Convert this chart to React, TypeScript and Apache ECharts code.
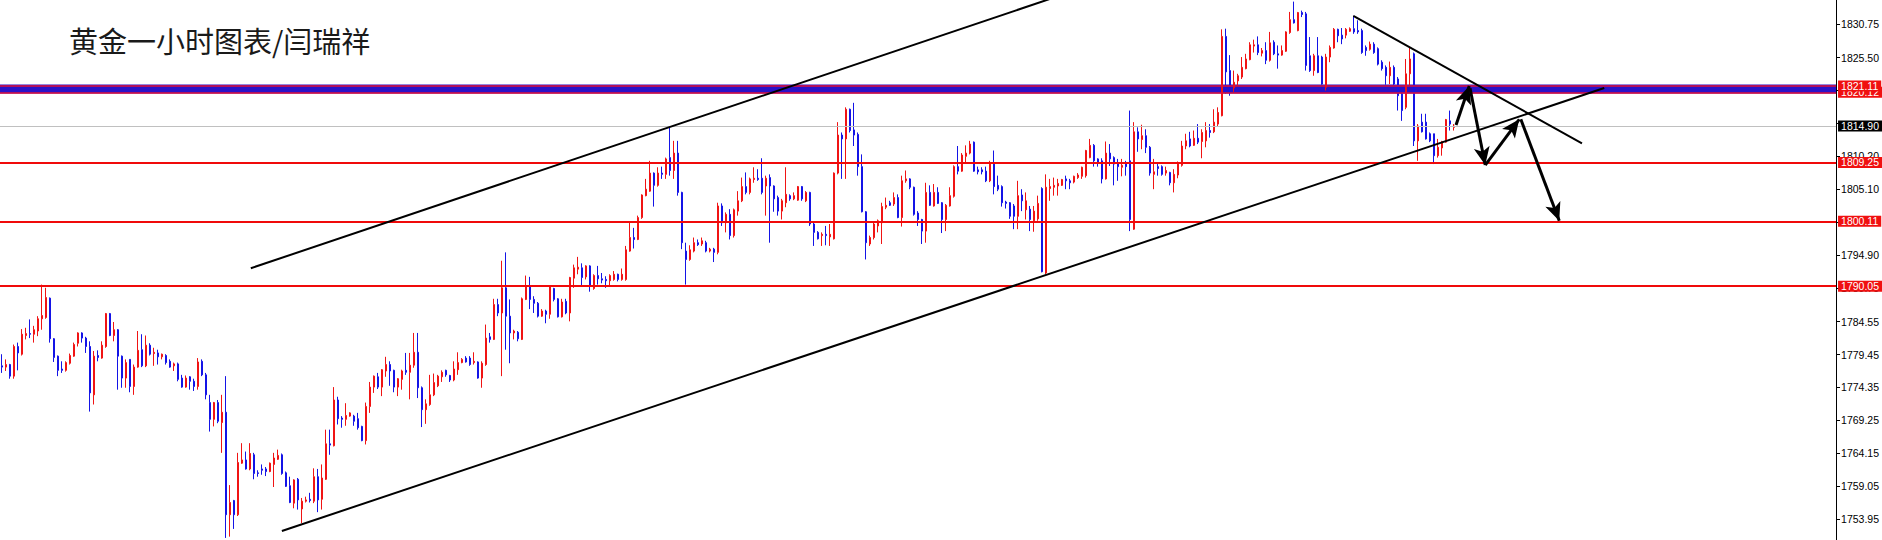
import React, { useEffect, useRef } from "react";
import * as echarts from "echarts";

// Each candle: [open, close, low, high]
const segA: number[][] = [
  [1777.7,1777.5,1776.6,1779.5],[1777.5,1777.9,1776.9,1778.7],[1777.9,1776.1,1775.7,1778.0],[1776.1,1780.7,1775.7,1781.0],
  [1780.7,1779.7,1777.0,1781.3],[1779.5,1782.6,1779.3,1783.4],[1782.4,1782.7,1781.8,1783.6],[1782.7,1782.6,1782.0,1784.9],
  [1782.6,1783.3,1781.3,1783.9],[1783.1,1785.0,1782.3,1785.4],[1785.0,1785.5,1783.3,1790.3],[1785.2,1788.3,1785.0,1789.8],
  [1788.2,1781.9,1781.3,1788.3],[1781.9,1779.0,1778.3,1782.0],[1779.2,1777.0,1776.1,1779.3],[1777.2,1777.0,1776.6,1778.4],
  [1777.0,1778.2,1776.8,1778.4],[1778.1,1779.3,1777.9,1779.6],[1779.2,1781.0,1779.1,1781.3],[1781.2,1782.8,1780.7,1782.9],
  [1782.8,1782.0,1781.3,1782.9],[1782.0,1780.7,1779.7,1782.2],[1780.7,1773.5,1770.6,1781.5],[1773.2,1779.2,1771.7,1780.0],
  [1779.3,1779.0,1778.4,1780.1],[1778.9,1780.9,1778.8,1781.5],[1780.7,1785.8,1780.5,1785.9],[1785.8,1782.4,1782.3,1785.9],
  [1782.4,1783.3,1781.5,1784.5],[1783.3,1779.2,1774.0,1783.4],[1779.2,1775.8,1774.3,1779.3],[1775.8,1778.2,1774.3,1778.7],
  [1778.7,1774.5,1773.6,1778.7],[1774.5,1777.5,1773.2,1777.9],[1777.5,1780.1,1777.4,1783.1],[1780.2,1777.7,1777.5,1782.6],
  [1777.7,1780.9,1777.5,1782.4],[1780.9,1779.5,1779.3,1781.2],[1779.6,1779.8,1777.7,1780.5],[1779.7,1779.1,1777.9,1780.2],
  [1779.1,1779.5,1778.7,1779.6],[1779.3,1778.2,1777.9,1779.5],[1778.4,1777.5,1777.4,1778.7],[1777.7,1778.0,1776.9,1778.2],
  [1778.0,1775.6,1775.3,1778.2],[1775.8,1774.4,1774.3,1776.3],[1774.4,1775.8,1774.3,1776.2],[1776.0,1775.3,1774.0,1776.1],
  [1775.3,1774.5,1773.8,1775.7],[1774.5,1778.3,1774.0,1778.9],[1778.4,1776.3,1776.1,1778.7],[1776.3,1773.2,1772.5,1776.6],
  [1772.0,1769.4,1767.5,1773.2],[1769.4,1772.0,1768.3,1772.1],[1772.0,1769.1,1768.8,1772.4],[1768.9,1770.5,1764.2,1773.2],
  [1770.5,1754.6,1751.0,1776.1],[1754.6,1756.5,1751.2,1759.2],[1756.8,1754.6,1752.4,1756.9],[1754.6,1762.7,1754.4,1764.2],
];
const segB: number[][] = [
  [1762.6,1763.1,1762.5,1765.7],[1763.1,1761.7,1761.6,1764.4],[1761.7,1764.1,1761.5,1765.7],[1763.9,1761.0,1760.1,1764.2],
  [1761.1,1761.0,1760.5,1761.5],[1761.7,1761.5,1760.8,1762.4],[1761.7,1761.3,1760.6,1762.0],[1761.3,1762.6,1761.2,1762.7],
  [1762.4,1763.4,1758.9,1764.2],[1763.2,1763.8,1763.1,1764.7],[1763.9,1761.0,1760.8,1764.1],[1761.1,1759.0,1758.9,1761.3],
  [1759.1,1756.5,1756.4,1760.5],[1756.4,1760.0,1755.6,1760.1],[1760.1,1756.9,1755.4,1760.3],[1755.5,1756.7,1753.3,1757.2],
  [1756.7,1756.9,1756.5,1757.4],[1757.0,1756.8,1756.5,1758.0],[1756.7,1760.5,1756.4,1761.8],[1760.5,1756.9,1755.0,1761.7],
  [1757.0,1760.3,1755.4,1762.4],[1760.1,1765.6,1760.0,1767.8],[1765.6,1765.4,1763.9,1767.8],[1765.3,1772.4,1765.2,1774.4],
  [1772.4,1769.5,1768.6,1772.9],[1769.6,1769.4,1768.1,1769.9],[1769.4,1770.0,1768.4,1771.9],[1769.9,1770.4,1769.8,1770.5],
  [1769.9,1769.1,1768.4,1770.1],[1769.5,1768.1,1767.8,1770.4],[1768.3,1766.1,1766.0,1768.4],[1766.1,1771.4,1765.5,1772.0],
  [1771.4,1774.4,1770.4,1775.2],[1774.4,1776.1,1773.5,1776.2],[1776.0,1774.4,1774.1,1776.6],[1774.4,1777.1,1773.0,1777.2],
  [1776.9,1777.9,1776.0,1779.1],[1777.9,1776.9,1774.6,1778.4],[1777.0,1774.4,1773.6,1777.1],[1774.4,1775.7,1773.0,1775.8],
  [1775.6,1776.9,1774.0,1777.1],[1777.0,1776.7,1776.3,1779.7],[1776.7,1777.8,1772.5,1779.7],[1777.8,1779.8,1777.4,1782.8],
  [1779.8,1774.3,1772.7,1782.8],[1774.3,1770.9,1768.2,1774.5],[1770.9,1771.8,1768.7,1772.5],[1771.7,1773.2,1771.5,1776.3],
  [1773.2,1775.1,1773.0,1776.5],[1774.6,1776.1,1774.4,1776.3],[1776.0,1776.7,1775.2,1777.0],[1777.0,1776.3,1776.0,1777.1],
  [1776.2,1775.5,1775.2,1776.3],[1775.5,1777.2,1775.3,1778.4],[1777.1,1778.2,1776.3,1779.8],[1778.2,1778.7,1778.1,1778.9],
  [1778.9,1778.3,1778.2,1779.2],[1778.9,1777.9,1777.7,1779.2],[1778.2,1778.4,1777.9,1779.8],[1778.3,1775.8,1775.7,1778.4],
  [1775.8,1778.1,1774.3,1778.4],[1777.9,1782.0,1777.7,1784.1],
];
const segC: number[][] = [
  [1782.2,1781.8,1781.3,1782.8],[1781.8,1787.2,1781.7,1788.1],[1787.2,1785.9,1785.4,1788.1],[1785.9,1789.8,1776.1,1794.0],
  [1789.8,1785.4,1780.2,1795.3],[1785.4,1782.8,1778.1,1788.0],[1782.8,1783.1,1781.8,1783.3],[1782.9,1781.9,1781.5,1783.1],
  [1781.8,1788.1,1781.7,1788.3],[1788.0,1790.0,1787.9,1791.7],[1790.0,1788.0,1786.5,1791.5],[1788.0,1787.4,1785.9,1788.5],
  [1787.4,1785.4,1785.2,1787.6],[1785.4,1786.2,1785.3,1786.5],[1786.2,1785.7,1784.3,1786.4],[1785.7,1790.0,1785.0,1790.2],
  [1789.7,1788.0,1787.7,1789.8],[1788.1,1785.3,1785.2,1788.2],[1785.3,1787.6,1785.2,1788.1],[1787.7,1785.9,1785.7,1788.1],
  [1785.9,1791.4,1784.6,1791.5],[1791.3,1792.9,1789.8,1793.4],[1792.7,1793.0,1791.9,1794.6],[1792.9,1791.4,1790.2,1793.6],
  [1791.5,1793.2,1791.1,1793.3],[1793.2,1790.0,1789.2,1793.3],[1789.7,1791.7,1789.5,1791.9],[1791.7,1791.2,1790.3,1793.2],
  [1791.2,1791.0,1790.5,1792.1],[1791.1,1790.9,1789.8,1791.6],[1790.9,1791.7,1790.1,1791.9],[1791.1,1791.9,1790.9,1792.4],
  [1791.9,1791.1,1790.8,1792.0],[1791.1,1791.9,1790.9,1792.8],[1791.1,1795.7,1790.9,1796.3],[1795.5,1797.6,1795.4,1799.9],
  [1797.6,1797.3,1795.9,1799.1],[1797.3,1800.7,1797.2,1801.0],[1800.7,1804.2,1800.5,1804.3],[1804.1,1805.1,1804.0,1806.7],
  [1804.8,1807.6,1804.7,1809.5],[1807.6,1805.7,1802.4,1807.7],[1805.7,1807.6,1805.5,1808.5],[1807.6,1807.4,1806.7,1808.6],
  [1807.4,1809.8,1806.7,1810.0],[1810.0,1808.0,1807.2,1814.7],[1808.0,1810.7,1806.7,1812.6],[1810.7,1804.6,1804.1,1812.6],
  [1804.6,1796.8,1795.8,1804.7],[1795.5,1794.2,1790.3,1796.8],[1794.2,1795.7,1794.0,1796.4],[1795.5,1796.8,1795.3,1797.6],
  [1796.8,1796.5,1796.3,1797.3],[1796.6,1797.1,1796.3,1797.6],[1796.8,1795.5,1795.3,1797.1],[1795.5,1795.8,1795.3,1796.0],
  [1795.8,1795.3,1793.8,1796.0],[1795.3,1802.5,1795.0,1803.0],[1802.5,1799.9,1799.4,1802.9],[1799.9,1801.2,1798.4,1801.5],
];
const segD: number[][] = [
  [1801.2,1797.9,1797.3,1802.0],[1797.9,1801.9,1797.6,1802.1],[1801.7,1803.3,1801.0,1804.8],[1803.3,1805.5,1803.1,1806.9],
  [1805.5,1804.6,1804.3,1807.7],[1804.6,1806.7,1804.3,1806.9],[1806.6,1806.8,1806.1,1808.5],[1806.8,1806.6,1806.4,1808.2],
  [1806.8,1804.6,1804.3,1809.9],[1805.6,1806.8,1801.0,1807.2],[1806.9,1805.6,1796.8,1807.4],[1805.6,1803.6,1801.6,1805.7],
  [1803.8,1801.7,1801.0,1804.1],[1801.7,1803.3,1800.4,1803.6],[1803.0,1804.3,1802.3,1808.5],[1804.1,1803.6,1803.3,1804.3],
  [1803.6,1804.1,1803.4,1804.6],[1803.4,1805.5,1803.3,1805.6],[1805.5,1803.6,1803.3,1805.6],[1803.3,1804.6,1803.1,1804.8],
  [1804.6,1799.7,1799.4,1804.7],[1799.7,1798.4,1796.3,1799.9],[1798.4,1797.4,1797.3,1798.6],[1797.9,1798.1,1796.3,1798.4],
  [1798.1,1797.9,1796.4,1799.4],[1797.7,1798.1,1796.3,1799.7],[1797.4,1807.6,1797.3,1807.7],[1807.6,1813.5,1807.4,1815.5],
  [1813.5,1812.9,1806.7,1813.9],[1812.9,1817.5,1806.7,1817.8],[1817.5,1814.2,1813.9,1817.6],[1814.3,1813.5,1811.8,1818.5],
  [1813.6,1808.6,1807.2,1813.9],[1808.6,1801.6,1801.5,1810.5],[1801.6,1796.8,1794.2,1801.7],[1796.6,1797.6,1796.3,1797.9],
  [1797.6,1799.7,1797.3,1799.9],[1799.4,1800.2,1798.4,1800.4],[1799.9,1802.4,1796.6,1803.0],[1802.3,1802.6,1802.0,1803.8],
  [1803.0,1802.6,1802.5,1803.3],[1802.8,1803.8,1802.5,1804.6],[1803.8,1800.7,1800.6,1804.3],[1800.7,1806.4,1799.3,1807.2],
  [1806.4,1806.7,1806.1,1808.0],[1806.7,1805.4,1805.1,1806.8],[1805.4,1801.2,1801.0,1805.5],[1801.4,1800.4,1799.4,1801.7],
  [1800.4,1798.6,1796.6,1800.5],[1798.6,1804.6,1796.8,1806.1],[1804.6,1802.6,1802.5,1805.7],[1802.5,1804.6,1802.4,1805.9],
  [1804.6,1802.9,1802.8,1805.4],[1803.0,1800.4,1798.3,1803.1],[1800.4,1802.6,1798.6,1802.8],[1802.5,1804.1,1802.4,1805.4],
  [1804.0,1808.6,1803.8,1808.8],[1808.6,1807.9,1807.4,1811.8],[1807.9,1810.4,1807.8,1810.7],[1810.2,1810.7,1809.3,1811.9],
];
const segE: number[][] = [
  [1810.7,1812.1,1810.5,1812.6],[1812.4,1807.9,1807.8,1812.5],[1808.1,1807.8,1807.4,1808.6],[1808.1,1807.8,1807.4,1808.5],
  [1807.9,1806.4,1806.2,1808.6],[1806.4,1809.0,1806.2,1809.5],[1809.0,1805.5,1804.3,1811.1],[1805.7,1805.1,1804.8,1807.2],
  [1805.5,1803.0,1802.4,1805.7],[1803.1,1802.9,1802.1,1803.3],[1803.0,1800.9,1800.5,1803.1],[1802.5,1800.9,1798.9,1802.8],
  [1800.9,1804.1,1798.9,1806.4],[1804.2,1803.3,1801.7,1805.1],[1801.9,1803.3,1800.4,1804.6],[1802.0,1800.4,1798.6,1802.5],
  [1800.2,1801.7,1798.5,1802.5],[1800.5,1802.9,1800.2,1804.1],[1805.2,1792.3,1792.2,1805.4],[1792.1,1805.4,1791.9,1807.4],
  [1805.2,1805.5,1803.3,1806.7],[1805.4,1805.7,1804.1,1806.9],[1805.6,1806.0,1804.1,1806.7],[1805.7,1806.6,1805.6,1806.7],
  [1806.7,1806.4,1805.1,1807.2],[1806.4,1806.1,1805.1,1806.7],[1806.2,1807.1,1806.0,1807.2],[1806.9,1807.3,1806.7,1807.6],
  [1807.1,1808.5,1806.7,1808.6],[1807.2,1811.1,1806.9,1811.2],[1810.0,1811.9,1809.9,1812.9],[1811.9,1809.5,1808.6,1812.1],
  [1809.8,1809.3,1808.6,1809.9],[1809.5,1806.7,1806.0,1809.9],[1806.7,1810.7,1806.6,1812.5],[1810.7,1809.8,1808.7,1812.1],
  [1810.0,1809.0,1805.7,1810.2],[1809.1,1808.6,1806.4,1809.8],[1808.5,1808.8,1807.1,1809.8],[1809.0,1808.6,1807.2,1809.5],
  [1809.5,1800.4,1798.6,1817.3],[1798.9,1814.0,1798.8,1815.5],[1814.0,1812.9,1810.9,1814.7],[1812.8,1813.4,1811.3,1815.1],
  [1813.4,1811.6,1810.7,1814.4],[1811.6,1807.6,1807.2,1811.8],[1807.4,1807.8,1805.1,1809.8],[1808.6,1808.3,1807.2,1809.0],
  [1808.6,1807.4,1807.2,1808.8],[1807.6,1808.0,1807.2,1808.6],[1807.7,1806.1,1805.7,1807.8],[1806.1,1807.4,1804.6,1808.2],
  [1807.3,1809.0,1806.8,1809.4],[1808.8,1811.8,1808.6,1812.6],[1811.8,1812.6,1811.3,1813.7],[1812.9,1811.8,1811.6,1814.0],
  [1811.9,1813.0,1811.8,1814.2],[1813.0,1812.4,1812.1,1815.2],[1812.5,1813.9,1809.9,1814.4],[1812.6,1814.2,1811.6,1815.5],
  [1814.2,1813.9,1813.1,1815.2],[1814.0,1815.5,1813.8,1817.5],
];
const segF: number[][] = [
  [1815.2,1817.0,1814.9,1817.8],[1816.5,1828.8,1816.4,1829.9],[1828.8,1823.3,1819.9,1830.0],[1823.5,1820.9,1819.6,1825.9],
  [1820.8,1821.7,1820.2,1823.5],[1821.9,1822.7,1821.1,1823.0],[1822.5,1824.0,1822.2,1825.6],[1823.8,1825.3,1823.7,1826.1],
  [1825.2,1827.5,1825.1,1827.9],[1827.3,1827.5,1826.3,1828.3],[1827.5,1826.3,1825.9,1828.8],[1826.2,1826.6,1825.7,1827.0],
  [1826.6,1825.1,1824.5,1827.9],[1825.1,1827.8,1824.9,1829.5],[1827.9,1826.1,1825.9,1828.2],[1826.1,1825.9,1823.8,1827.4],
  [1825.9,1826.6,1825.8,1827.4],[1826.5,1829.5,1826.4,1829.6],[1829.4,1831.4,1829.2,1832.6],[1831.4,1830.9,1830.8,1834.2],
  [1829.7,1832.5,1829.6,1832.6],[1832.5,1832.2,1831.8,1832.8],[1832.3,1824.3,1823.5,1832.6],[1825.8,1823.5,1823.3,1828.7],
  [1823.5,1825.8,1822.7,1826.1],[1825.8,1823.2,1823.1,1828.7],[1825.6,1821.4,1821.3,1825.8],[1820.9,1825.6,1820.4,1826.1],
  [1825.6,1827.1,1824.8,1827.4],[1827.0,1829.9,1826.9,1830.1],[1829.9,1828.9,1827.9,1830.0],[1829.0,1828.4,1827.6,1830.1],
  [1829.0,1829.9,1828.5,1830.1],[1829.6,1830.0,1829.5,1830.2],[1830.0,1829.5,1829.2,1832.0],[1829.7,1829.5,1829.2,1831.3],
  [1829.7,1826.3,1826.1,1830.0],[1827.1,1826.6,1825.8,1827.4],[1826.8,1827.6,1826.6,1828.0],[1827.6,1826.3,1826.1,1827.9],
  [1826.9,1824.5,1824.3,1827.1],[1824.8,1823.8,1823.5,1825.1],[1824.0,1822.7,1821.3,1824.3],[1822.7,1824.0,1821.4,1824.9],
  [1824.0,1821.4,1821.2,1824.3],[1822.2,1819.6,1817.3,1822.5],[1819.9,1817.3,1815.7,1820.1],[1817.8,1823.0,1817.5,1825.3],
  [1823.0,1825.3,1821.2,1827.1],[1826.1,1812.6,1811.8,1826.3],[1812.6,1814.9,1809.5,1815.2],[1815.5,1814.0,1813.9,1816.8],
  [1815.5,1812.9,1812.8,1816.8],[1813.7,1812.6,1812.4,1813.9],[1813.7,1810.3,1809.0,1813.7],[1810.3,1811.6,1810.0,1812.9],
  [1811.5,1812.5,1810.3,1812.6],[1812.4,1815.9,1812.3,1816.0],[1815.7,1815.2,1814.2,1817.3],[1814.7,1814.9,1814.2,1815.2],
];

// price axis ticks (right side) and the labels that remain readable
const tickValues = [1830.75, 1825.5, 1820.4, 1815.3, 1810.2, 1805.1, 1800.0, 1794.9, 1789.75, 1784.55, 1779.45, 1774.35, 1769.25, 1764.15, 1759.05, 1753.95];
const labelValues = [1830.75, 1825.5, 1810.2, 1805.1, 1794.9, 1789.75, 1784.55, 1779.45, 1774.35, 1769.25, 1764.15, 1759.05, 1753.95];
// horizontal levels
const redLevels = [1809.25, 1800.11, 1790.05];
const bandLevels = [1820.12, 1821.11];
const bandRange = [1819.95, 1821.35];
const currentPrice = 1814.9;
// trend lines: [[barIndex, price], [barIndex, price]]
const upperChannel = [[62.2, 1792.84], [263.0, 1834.83]];
const lowerChannel = [[69.97, 1752.08], [400.55, 1820.8]];
const downTrend = [[337.83, 1831.97], [394.98, 1812.22]];
// projected path arrows
const arrows = [
  [[363.5, 1815.06], [366.8, 1821.11]],
  [[367.0, 1820.75], [370.8, 1808.85]],
  [[370.8, 1808.85], [379.3, 1815.94]],
  [[379.7, 1815.94], [389.3, 1800.21]],
];
const title = "黄金一小时图表/闫瑞祥";
const slotCount = 459;

const candles = [...segA, ...segB, ...segC, ...segD, ...segE, ...segF];
const slots = Array.from({ length: slotCount }, (_, i) => String(i));

const UP = "#f01414";
const DOWN = "#1414e6";
const labelBase = {
  show: true,
  position: "end",
  distance: 2,
  color: "#fff",
  fontSize: 10.5,
  fontFamily: "Liberation Sans",
  padding: [1, 3, 0, 3],
  lineHeight: 10,
  formatter: (p: any) => Number(p.value).toFixed(2),
};

export default function App() {
  const ref = useRef<HTMLDivElement>(null);
  useEffect(() => {
    document.body.style.margin = "0";
    const chart = echarts.init(ref.current!, undefined, { renderer: "svg" });
    const lineSeries = (data: number[][], extra: any = {}) => ({
      type: "line",
      xAxisIndex: 1,
      yAxisIndex: 0,
      data,
      symbol: "none",
      silent: true,
      lineStyle: { color: "#000", width: 2 },
      z: 5,
      ...extra,
    });
    chart.setOption({
      animation: false,
      backgroundColor: "#fff",
      grid: { left: 0, right: 45, top: 0, bottom: 0 },
      graphic: [
        {
          type: "text",
          x: 69,
          y: 40,
          z: 100,
          style: {
            text: title,
            font: '29px "Noto Sans CJK SC"',
            fill: "#1a1a1a",
            textVerticalAlign: "middle",
          },
        },
      ],
      xAxis: [
        { type: "category", data: slots, show: false, boundaryGap: true },
        { type: "value", min: -0.5, max: slotCount - 0.5, show: false },
      ],
      yAxis: {
        type: "value",
        position: "right",
        min: 1750.68,
        max: 1834.45,
        splitLine: { show: false },
        axisLine: { show: true, onZero: false, lineStyle: { color: "#000", width: 1 } },
        axisTick: { show: true, length: 4, customValues: tickValues, lineStyle: { color: "#000" } },
        axisLabel: {
          customValues: labelValues,
          formatter: (v: number) => v.toFixed(2),
          color: "#000",
          fontSize: 10.5,
          fontFamily: "Liberation Sans",
          margin: 5,
        },
      },
      series: [
        {
          type: "candlestick",
          xAxisIndex: 0,
          yAxisIndex: 0,
          data: candles,
          barWidth: 2,
          silent: true,
          itemStyle: { color: UP, color0: DOWN, borderColor: UP, borderColor0: DOWN, borderWidth: 1 },
          markArea: {
            silent: true,
            itemStyle: { color: "#2a12c8" },
            data: [[{ yAxis: bandRange[0] }, { yAxis: bandRange[1] }]],
          },
          markLine: {
            silent: true,
            symbol: ["none", "none"],
            data: [
              {
                yAxis: currentPrice,
                lineStyle: { color: "#c0c0c0", width: 1, type: "solid" },
                label: { ...labelBase, backgroundColor: "#000" },
              },
              ...redLevels.map((v) => ({
                yAxis: v,
                lineStyle: { color: "#f00a0a", width: 2, type: "solid" },
                label: { ...labelBase, backgroundColor: "#f01010" },
              })),
              ...bandLevels.map((v) => ({
                yAxis: v,
                lineStyle: { color: "#e0103a", width: 1.5, type: "solid" },
                label: { ...labelBase, backgroundColor: "#f01010" },
              })),
            ],
          },
        },
        lineSeries(upperChannel),
        lineSeries(lowerChannel),
        lineSeries(downTrend, {
          markLine: {
            silent: true,
            symbol: ["none", "arrow"],
            symbolSize: [12, 18],
            lineStyle: { color: "#000", width: 3, type: "solid" },
            itemStyle: { color: "#000" },
            label: { show: false },
            data: arrows.map(([a, b]) => [{ coord: a }, { coord: b }]),
          },
        }),
      ],
    });
    return () => chart.dispose();
  }, []);
  return (
    <div
      ref={ref}
      style={{ position: "absolute", left: 0, top: 0, width: 1882, height: 540, background: "#fff" }}
    />
  );
}
